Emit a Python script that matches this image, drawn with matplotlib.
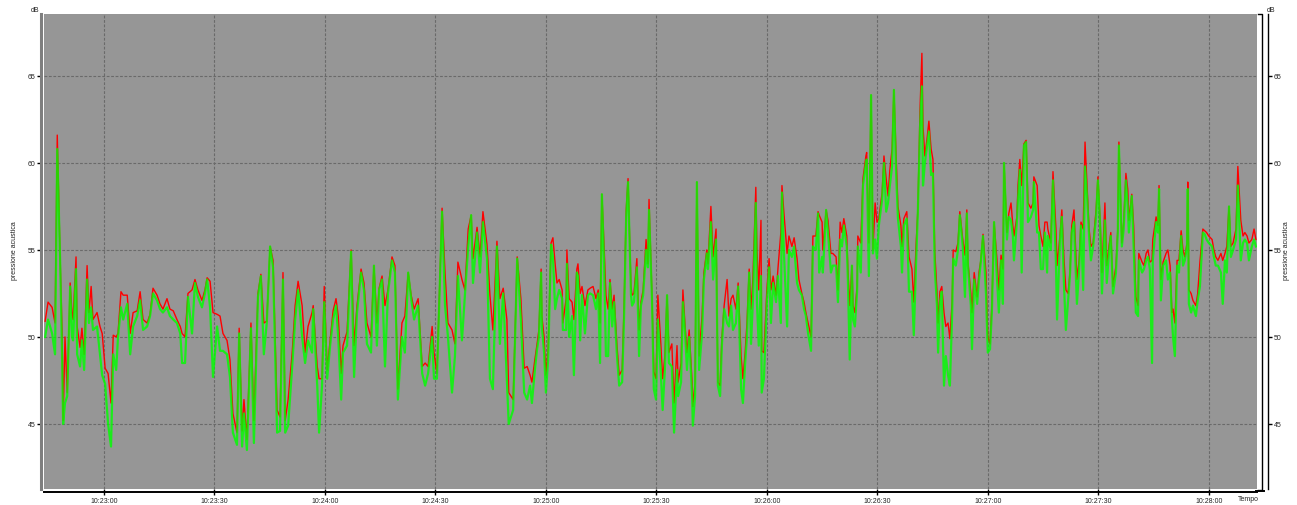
"""Sound pressure trace (two channels) on a grey chart, 10:22:44 - 10:28:13."""

import datetime as dt

import matplotlib

matplotlib.use("Agg")
import matplotlib.dates as mdates  # noqa: E402
import matplotlib.pyplot as plt  # noqa: E402
from matplotlib.lines import Line2D  # noqa: E402

START = dt.datetime(2024, 1, 1, 10, 22, 44)

# seconds after START
seconds = [
    0.0, 0.8, 1.9, 2.7, 3.3, 4.1, 4.6, 4.9, 5.4, 6.0, 6.8, 7.3, 7.6, 8.4, 8.7, 9.5,
    10.0, 10.6, 11.4, 11.9, 12.5, 13.0, 14.1, 14.9, 15.5, 16.3, 17.1, 17.9, 18.5,
    19.3, 19.8, 20.6, 21.2, 22.3, 23.1, 23.9, 25.0, 25.8, 26.6, 27.7, 28.5, 29.3,
    30.4, 31.2, 32.0, 33.1, 33.9, 34.8, 35.8, 36.7, 37.2, 38.0, 38.8, 39.9, 40.7,
    41.5, 42.6, 43.4, 44.0, 44.8, 45.6, 46.7, 47.5, 48.3, 49.4, 50.2, 51.0, 52.1,
    52.7, 53.5, 54.0, 54.8, 55.9, 56.7, 57.8, 58.6, 59.4, 60.2, 61.1, 61.9, 63.0,
    63.8, 64.6, 65.2, 66.0, 67.1, 67.9, 68.7, 69.8, 70.6, 71.4, 72.5, 72.8, 73.9,
    74.4, 75.2, 75.8, 76.6, 77.4, 78.2, 79.0, 79.6, 80.4, 80.9, 82.0, 83.1, 83.9,
    84.7, 85.8, 86.6, 87.4, 88.5, 89.3, 90.1, 90.7, 91.5, 92.3, 93.1, 94.2, 95.0,
    95.8, 96.9, 97.7, 98.6, 99.4, 100.2, 101.3, 102.4, 103.2, 104.0, 105.1, 105.6,
    106.4, 107.2, 107.8, 108.6, 109.4, 110.5, 111.3, 112.1, 113.2, 114.0, 114.9,
    115.7, 116.2, 117.3, 118.1, 118.9, 120.0, 120.8, 121.6, 122.7, 123.5, 124.4,
    125.4, 125.9, 127.1, 128.2, 129.2, 130.1, 130.9, 131.7, 132.2, 133.0, 133.6,
    134.1, 134.7, 134.9, 135.5, 136.0, 136.6, 137.4, 137.9, 138.5, 139.0, 139.6,
    140.4, 140.6, 141.5, 141.7, 142.3, 143.1, 143.6, 144.4, 144.7, 145.3, 145.8,
    146.6, 147.4, 148.0, 148.8, 149.6, 150.2, 150.7, 151.2, 151.8, 152.3, 152.9,
    153.4, 154.0, 154.5, 155.3, 155.9, 156.7, 157.2, 157.8, 158.3, 159.1, 159.4,
    159.9, 160.7, 161.3, 161.8, 162.4, 163.2, 163.7, 164.0, 164.8, 165.3, 165.9,
    166.4, 167.2, 167.7, 168.3, 168.9, 169.4, 170.2, 170.8, 171.6, 171.9, 172.7,
    173.2, 173.8, 174.3, 174.9, 175.7, 175.9, 176.5, 177.0, 177.6, 178.4, 178.9,
    179.7, 180.0, 180.8, 181.4, 182.2, 182.7, 183.3, 183.8, 184.4, 185.2, 185.7,
    186.3, 186.8, 187.6, 188.2, 189.0, 189.5, 190.1, 190.6, 191.2, 191.7, 192.2,
    193.0, 193.3, 193.8, 194.4, 194.6, 195.2, 196.0, 196.6, 197.1, 197.7, 198.5,
    199.0, 199.8, 200.1, 200.6, 201.5, 202.0, 202.8, 203.4, 204.2, 204.7, 205.5,
    206.1, 206.6, 207.2, 208.0, 208.5, 209.3, 209.9, 210.2, 211.0, 211.2, 212.1,
    212.6, 213.4, 213.9, 214.8, 215.3, 215.9, 216.4, 216.9, 217.7, 218.0, 218.5,
    219.1, 219.4, 219.9, 220.5, 220.7, 221.5, 222.1, 222.9, 223.1, 223.7, 224.3,
    224.8, 225.4, 225.9, 226.4, 227.3, 227.8, 228.4, 228.9, 229.4, 230.0, 230.5,
    231.1, 231.6, 232.4, 232.7, 233.2, 234.0, 234.6, 235.4, 235.9, 236.5, 237.0,
    237.6, 238.1, 238.4, 238.9, 239.5, 240.0, 240.6, 241.1, 241.6, 242.2, 242.5,
    243.0, 243.5, 244.1, 244.6, 245.2, 245.7, 246.3, 246.6, 247.3, 247.9, 248.4,
    249.2, 249.8, 250.3, 250.6, 251.4, 251.7, 252.3, 253.1, 253.6, 254.1, 254.7,
    255.5, 256.0, 256.6, 257.1, 257.7, 258.5, 259.0, 259.6, 260.1, 260.4, 261.2,
    261.7, 262.3, 262.8, 263.1, 263.9, 264.2, 264.7, 265.2, 265.8, 266.4, 266.9,
    267.7, 268.3, 268.5, 269.4, 269.9, 270.4, 271.0, 271.5, 272.1, 272.3, 273.1,
    273.7, 274.5, 274.8, 275.6, 276.1, 276.7, 277.2, 277.8, 278.3, 278.8, 279.4,
    280.2, 280.8, 281.3, 281.9, 282.4, 283.0, 283.5, 284.0, 284.6, 285.4, 285.9,
    286.5, 287.0, 287.8, 288.3, 288.9, 289.4, 290.0, 290.8, 291.3, 291.6, 292.4,
    292.9, 293.5, 294.0, 294.3, 295.1, 295.6, 296.2, 296.8, 297.0, 297.9, 298.4,
    299.0, 299.5, 300.0, 300.6, 300.8, 301.7, 302.2, 302.5, 303.0, 303.6, 304.4,
    304.9, 305.5, 306.0, 306.3, 306.8, 307.4, 307.9, 308.5, 309.0, 309.5, 310.1,
    310.3, 310.6, 311.2, 311.7, 312.5, 313.0, 313.6, 314.4, 314.9, 315.4, 316.0,
    316.9, 317.4, 317.9, 318.5, 319.3, 319.8, 320.4, 320.9, 321.5, 322.0, 322.6,
    323.4, 323.9, 324.7, 325.3, 325.8, 326.4, 326.9, 327.7, 328.3, 328.8,
]

red_db = [
    50.9, 52.0, 51.7, 50.8, 61.6, 54.4, 50.4, 45.2, 50.0, 46.8, 53.1, 51.4, 51.0, 54.6, 50.6, 49.4,
    50.5, 49.0, 54.1, 51.4, 52.9, 51.0, 51.4, 50.6, 50.2, 48.2, 47.9, 46.2, 50.1,
    50.0, 50.2, 52.6, 52.4, 52.4, 50.2, 51.4, 51.5, 52.6, 51.0, 50.8, 51.3, 52.8,
    52.4, 51.9, 51.6, 52.2, 51.6, 51.5, 51.0, 50.6, 50.2, 50.0, 52.5, 52.7, 53.3,
    52.7, 52.1, 52.7, 53.4, 53.2, 51.4, 51.3, 51.2, 50.2, 49.8, 48.7, 45.6, 44.5,
    50.5, 44.6, 46.4, 44.1, 50.8, 45.2, 52.5, 53.6, 50.8, 50.9, 55.2, 54.4, 45.8,
    45.4, 53.7, 45.2, 46.4, 49.1, 51.8, 53.2, 51.8, 49.1, 50.6, 51.4, 51.8, 48.3,
    47.6, 47.6, 52.9, 48.1, 49.8, 51.5, 52.2, 51.2, 47.9, 49.5, 50.3, 55.0, 49.5,
    51.8, 53.9, 53.1, 50.8, 50.0, 54.1, 50.8, 52.8, 53.5, 51.8, 52.7, 54.6, 54.1,
    47.0, 50.8, 51.2, 53.7, 52.4, 51.6, 52.2, 48.3, 48.5, 48.3, 50.6, 49.1,
    47.9, 53.3, 57.4, 53.7, 50.8, 50.4, 49.6, 54.3, 53.3, 52.7, 56.2,
    57.0, 54.5, 56.3, 54.6, 57.2, 55.3, 52.4, 50.4, 55.5, 52.2, 52.8,
    51.0, 46.8, 46.4, 54.6, 52.2, 48.2, 48.3, 47.8, 47.4, 48.7, 49.6,
    50.4, 53.9, 51.2, 50.0, 47.8, 49.3, 55.4, 55.7, 54.2, 53.1, 53.3,
    52.7, 50.8, 52.2, 55.0, 52.2, 52.0, 51.0, 53.9, 54.2, 52.5, 52.9,
    51.8, 52.7, 52.8, 52.9, 52.2, 52.7, 50.8, 58.2, 55.2, 52.4, 51.6,
    53.3, 51.6, 52.4, 49.5, 47.8, 48.1, 51.6, 57.3, 59.1, 52.9, 52.4,
    52.5, 54.5, 50.4, 52.0, 52.7, 55.6, 54.2, 57.9, 52.4, 48.0, 47.6,
    52.4, 49.6, 47.6, 48.9, 52.4, 49.1, 49.6, 46.2, 49.5, 47.4, 48.5,
    52.7, 50.6, 49.1, 50.4, 47.4, 46.0, 47.4, 58.9, 48.9, 51.2, 53.7,
    55.0, 54.2, 57.5, 54.6, 56.2, 47.4, 47.2, 50.0, 51.8, 53.3, 51.2,
    52.2, 52.4, 51.6, 53.1, 48.9, 47.6, 49.1, 50.8, 53.9, 51.6, 53.3,
    58.6, 55.0, 52.7, 56.7, 49.2, 49.1, 52.7, 54.5, 52.7, 53.5, 52.4,
    53.9, 56.0, 58.7, 57.2, 54.8, 55.8, 55.2, 55.7, 54.5, 53.3, 52.5,
    52.0, 51.4, 50.8, 50.0, 55.8, 55.8, 57.2, 57.0, 56.6, 55.0, 57.3,
    56.7, 54.8, 54.8, 54.6, 52.7, 56.6, 56.0, 56.8, 55.8, 53.9, 51.8,
    54.1, 51.8, 51.4, 52.9, 55.8, 55.4, 59.1, 60.4, 60.6, 55.4, 63.9,
    55.0, 57.7, 56.6, 56.8, 58.3, 60.4, 59.1, 58.1, 59.6, 60.8, 64.2,
    60.4, 57.5, 56.4, 55.2, 56.8, 57.2, 54.6, 53.9, 52.0, 55.2, 57.3,
    63.1, 66.3, 62.1, 60.4, 61.4, 62.4, 60.8, 60.2, 54.9, 52.6, 50.8,
    52.6, 52.9, 51.4, 50.6, 50.8, 49.9, 52.0, 55.0, 54.9, 55.4, 57.2,
    55.6, 54.7, 57.3, 54.3, 52.5, 51.4, 53.7, 52.3, 53.7, 54.4, 55.9,
    53.7, 50.0, 49.6, 51.8, 56.6, 54.4, 52.7, 54.7, 53.9, 60.0, 56.0,
    57.1, 57.7, 56.4, 55.8, 56.9, 58.7, 60.2, 58.7, 61.1, 61.3, 57.7,
    57.4, 57.7, 59.2, 58.7, 56.4, 55.8, 55.2, 56.6, 56.6, 56.2, 55.4,
    59.5, 56.2, 54.1, 55.8, 57.3, 54.4, 52.7, 52.5, 53.7, 56.4, 57.3,
    53.3, 54.4, 56.6, 56.2, 61.2, 58.5, 56.2, 55.2, 55.4, 57.3, 59.2,
    56.7, 53.7, 57.7, 54.1, 55.2, 56.0, 52.9, 54.1, 56.2, 61.2, 55.4,
    56.6, 59.4, 58.5, 56.7, 58.2, 56.4, 52.3, 51.8, 54.8, 54.3, 54.1,
    54.8, 55.0, 54.3, 54.4, 55.6, 56.9, 56.4, 58.7, 53.3, 54.3, 54.8,
    55.0, 54.1, 51.4, 51.6, 50.8, 54.4, 54.4, 56.1, 55.0, 54.6, 55.4,
    58.9, 52.7, 52.5, 52.1, 51.8, 52.5, 54.3, 56.2, 56.1, 56.0, 55.8,
    55.6, 55.0, 54.6, 54.4, 54.8, 54.4, 54.8, 55.2, 57.5, 55.2, 55.4,
    56.2, 59.8, 56.7, 55.8, 56.0, 55.8, 55.4, 55.6, 56.2, 55.6,
]

green_db = [
    50.0, 51.0, 50.2, 49.0, 60.8, 54.2, 49.0, 45.0, 46.2, 46.6, 52.9, 50.0, 49.8, 53.9, 49.0, 48.3,
    49.8, 48.1, 53.3, 50.8, 51.7, 50.4, 50.6, 49.0, 47.8, 47.3, 45.0, 43.7, 49.0,
    48.1, 50.0, 51.7, 51.0, 51.9, 49.0, 50.6, 51.2, 52.1, 50.4, 50.6, 51.2, 52.5,
    52.1, 51.6, 51.4, 51.7, 51.2, 51.0, 50.8, 50.2, 48.5, 48.5, 52.3, 50.2, 53.1,
    52.3, 51.7, 52.5, 53.3, 51.7, 47.7, 50.6, 49.2, 49.2, 49.0, 47.7, 44.5, 43.8,
    50.2, 43.7, 45.6, 43.5, 50.5, 43.9, 52.3, 53.5, 49.0, 50.8, 55.2, 54.0, 44.5,
    44.6, 53.3, 44.5, 44.9, 48.3, 51.0, 52.7, 50.0, 48.5, 49.8, 49.1, 51.6, 47.2,
    44.5, 47.2, 52.0, 47.6, 49.5, 51.0, 51.8, 50.0, 46.4, 49.1, 49.5, 54.9, 47.7,
    51.4, 53.7, 52.7, 49.6, 49.1, 54.1, 49.5, 52.7, 53.3, 48.3, 52.5, 54.4, 53.7,
    46.4, 50.0, 49.1, 53.7, 52.2, 51.0, 51.8, 47.9, 47.2, 47.9, 50.0, 47.6,
    47.6, 53.1, 57.2, 51.8, 50.0, 46.8, 48.9, 53.5, 49.8, 52.4, 55.2,
    57.0, 53.1, 56.0, 53.7, 56.6, 54.5, 47.6, 47.0, 55.2, 49.6, 52.5,
    47.4, 45.0, 45.8, 54.5, 51.0, 46.8, 46.4, 47.2, 46.2, 48.1, 49.3,
    50.0, 53.7, 50.6, 49.1, 46.8, 48.7, 55.3, 54.6, 51.6, 52.2, 52.7,
    52.2, 50.4, 50.4, 54.2, 50.0, 51.2, 47.8, 53.7, 53.5, 49.8, 52.4,
    50.2, 52.4, 52.5, 52.4, 51.6, 52.5, 48.5, 58.2, 54.2, 48.9, 48.9,
    53.1, 50.6, 52.0, 48.9, 47.2, 47.4, 51.0, 56.9, 58.9, 52.4, 51.8,
    52.0, 54.0, 48.9, 51.8, 52.4, 55.0, 54.0, 57.3, 52.2, 47.0, 46.4,
    51.0, 47.9, 45.8, 48.1, 52.4, 48.5, 48.3, 44.5, 48.1, 46.6, 47.4,
    52.0, 50.2, 48.1, 50.0, 46.6, 44.9, 46.6, 58.9, 48.1, 50.2, 53.3,
    54.8, 53.9, 56.6, 53.3, 55.6, 47.2, 46.6, 49.6, 51.6, 50.8, 50.6,
    51.8, 50.4, 50.8, 52.9, 47.0, 46.2, 48.5, 50.0, 53.7, 49.6, 52.0,
    57.7, 52.0, 49.5, 53.5, 46.8, 47.6, 52.0, 54.0, 50.8, 53.1, 52.0,
    53.5, 50.8, 58.3, 55.0, 50.6, 55.0, 54.6, 55.2, 53.1, 52.7, 52.4,
    51.6, 51.2, 50.2, 49.2, 55.2, 55.0, 57.1, 53.7, 54.6, 53.7, 57.3,
    56.0, 53.7, 54.1, 54.1, 52.0, 55.6, 55.2, 56.4, 55.2, 53.3, 48.7,
    54.1, 51.0, 50.6, 52.6, 55.2, 53.7, 58.7, 60.0, 60.2, 53.5, 63.9,
    54.8, 55.6, 54.5, 56.4, 57.9, 60.0, 57.2, 57.7, 58.7, 59.8, 64.2,
    59.4, 56.8, 55.2, 53.7, 56.4, 56.8, 52.6, 52.6, 50.1, 54.1, 57.2,
    62.1, 64.4, 58.7, 60.0, 61.0, 61.8, 59.3, 59.4, 53.9, 51.8, 49.1,
    52.0, 52.6, 47.2, 48.9, 47.8, 47.2, 51.2, 54.5, 54.1, 55.0, 57.0,
    55.2, 52.3, 57.1, 54.1, 51.8, 49.3, 53.3, 51.9, 53.3, 54.3, 55.8,
    52.5, 49.1, 49.3, 51.4, 56.6, 53.3, 51.4, 54.4, 51.9, 60.0, 55.6,
    56.9, 56.7, 55.8, 54.4, 56.6, 57.9, 59.6, 53.7, 61.0, 61.2, 56.6,
    56.9, 57.3, 58.9, 56.0, 56.0, 53.9, 53.9, 56.0, 53.7, 55.8, 55.0,
    59.0, 54.3, 51.0, 55.6, 56.9, 52.9, 50.4, 52.1, 53.5, 56.0, 56.6,
    51.9, 53.9, 56.4, 52.7, 59.8, 57.9, 55.8, 54.4, 55.2, 56.9, 59.0,
    56.4, 52.5, 56.7, 53.1, 54.8, 55.8, 52.5, 53.7, 56.0, 61.0, 55.2,
    56.2, 59.0, 57.5, 56.0, 58.1, 55.2, 51.4, 51.2, 54.4, 53.7, 53.9,
    54.4, 54.6, 53.9, 48.5, 54.4, 56.6, 56.0, 58.5, 52.1, 54.1, 54.4,
    53.3, 53.7, 51.0, 50.0, 48.9, 54.1, 53.7, 55.8, 54.1, 54.4, 55.2,
    58.5, 51.9, 51.4, 51.8, 51.2, 52.1, 52.9, 56.0, 55.9, 55.6, 55.4,
    55.2, 54.6, 54.1, 54.1, 53.7, 51.9, 54.4, 53.7, 57.5, 54.6, 55.0,
    55.6, 58.7, 54.4, 55.4, 55.6, 55.4, 54.4, 55.2, 55.6, 55.2,
]

y_ticks = [45, 50, 55, 60, 65]

W, H = 1297, 506
PLOT_BG = "#969696"
GRID = "#6a6a6a"
TEXT = "#222222"
FONT = "Liberation Sans"


def fig_xy(px, py):
    """Pixel position (from top-left) -> figure fraction."""
    return px / W, 1 - py / H


def main():
    times = [START + dt.timedelta(seconds=s) for s in seconds]

    fig = plt.figure(figsize=(W / 100, H / 100), dpi=100, facecolor="white")
    left, top = fig_xy(44, 15)
    right, bottom = fig_xy(1257, 490)
    ax = fig.add_axes([left, bottom, right - left, top - bottom])
    ax.set_facecolor(PLOT_BG)

    # red first, green on top; the overlap blends to olive
    ax.plot(times, red_db, color="#ff0000", lw=1.0, zorder=3)
    ax.plot(times, green_db, color="#00ff00", lw=1.6, alpha=0.82, zorder=4)

    ax.set_xlim(START - dt.timedelta(seconds=0.3), START + dt.timedelta(seconds=329.1))
    ax.set_ylim(41.26, 68.56)

    ax.xaxis.set_major_locator(mdates.SecondLocator(bysecond=[0, 30]))
    ax.xaxis.set_major_formatter(mdates.DateFormatter("%H:%M:%S"))
    ax.set_yticks(y_ticks)
    ax.set_yticklabels([str(v) for v in y_ticks])

    ax.grid(True, color=GRID, lw=0.8, linestyle=(0, (2.5, 1.5)), zorder=1)

    ax.spines["top"].set_visible(False)
    ax.spines["left"].set_position(("outward", 2))
    ax.spines["left"].set_color("#7f7f7f")
    ax.spines["left"].set_linewidth(2.2)
    ax.spines["bottom"].set_position(("outward", 2))
    ax.spines["bottom"].set_color("black")
    ax.spines["bottom"].set_linewidth(1.4)
    ax.spines["right"].set_position(("outward", 8))
    ax.spines["right"].set_color("black")
    ax.spines["right"].set_linewidth(1.0)

    ax.tick_params(axis="y", which="both", left=True, right=True,
                   labelleft=True, labelright=True, direction="out",
                   length=3, width=1, color="black", pad=1,
                   labelsize=5, labelcolor=TEXT)
    ax.tick_params(axis="x", direction="inout", length=4, width=1,
                   color="black", pad=1.5, labelsize=5, labelcolor=TEXT)
    for label in ax.get_xticklabels() + ax.get_yticklabels():
        label.set_family(FONT)

    # inner bracket on the right and bottom line running under it
    x0, _ = fig_xy(1258, 0)
    x1, _ = fig_xy(1261.5, 0)
    _, y_top = fig_xy(0, 15)
    _, y_bot = fig_xy(0, 490.5)
    fig.add_artist(Line2D([x0, x1, x1, x0], [y_top, y_top, y_bot, y_bot],
                          color="black", lw=1.0, transform=fig.transFigure))
    xa, _ = fig_xy(1256, 0)
    xb, _ = fig_xy(1264, 0)
    _, yb = fig_xy(0, 492)
    fig.add_artist(Line2D([xa, xb], [yb, yb], color="black", lw=1.4,
                          transform=fig.transFigure))

    fig.text(*fig_xy(35, 11), "dB", ha="center", va="center",
             fontsize=5, color=TEXT, family=FONT)
    fig.text(*fig_xy(1271, 11), "dB", ha="center", va="center",
             fontsize=5, color=TEXT, family=FONT)
    fig.text(*fig_xy(1248, 500), "Tempo", ha="center", va="center",
             fontsize=5, color=TEXT, family=FONT)
    for px in (14, 1287):
        fig.text(*fig_xy(px, 251), "pressione acustica", ha="center",
                 va="center", rotation=90, fontsize=5, color=TEXT, family=FONT)

    fig.savefig("out.png", dpi=100, facecolor="white")
    plt.close(fig)


if __name__ == "__main__":
    main()
